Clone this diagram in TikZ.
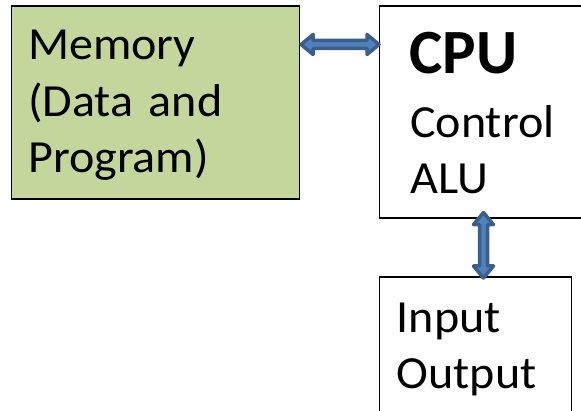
\documentclass[tikz,border=0pt]{standalone}
\usepackage{fontspec}
\setmainfont{Carlito}[FakeStretch=1.045]
\newfontfamily\cpufont{Carlito}
\usetikzlibrary{calc}
\definecolor{memgreen}{HTML}{C3D69B}
\definecolor{arrfill}{HTML}{4F81BD}
\definecolor{arrline}{HTML}{3A5F8B}
\begin{document}
\begin{tikzpicture}[x=1pt,y=-1pt,
  box/.style={draw=black, line width=1.6pt, rectangle, inner sep=0pt, anchor=north west},
  txt/.style={anchor=base west, inner sep=0pt, text width=250pt, align=left,
    font=\fontsize{46pt}{56.5pt}\selectfont},
  dblarr/.style={fill=arrfill, draw=arrline, line width=3.5pt, line join=round}]
\useasboundingbox (0,0) rectangle (581,411);
% boxes
\node[box, fill=memgreen, minimum width=288pt, minimum height=193pt] (mem) at (10.5,5.5) {};
\node[box, fill=white, minimum width=220pt, minimum height=212pt] (cpu) at (378.5,5.5) {};
\node[box, fill=white, minimum width=192pt, minimum height=150pt] (io) at (378.5,276.5) {};
% texts
\node[txt] (memtxt) at (28,60) {Memory\\(Data and\\Program)};
\node[txt, font=\cpufont\fontsize{63pt}{63pt}\selectfont\bfseries] (cputxt) at (409,74) {CPU};
\node[txt, font=\fontsize{46pt}{56pt}\selectfont] (cpusub) at (410,137.5) {Control\\ALU};
\node[txt, font=\fontsize{46pt}{56pt}\selectfont] (iotxt) at (396.5,332.5) {Input\\Output};
% connector coordinates
\coordinate (ha) at ($(mem.east |- 0,44.5)+(1,0)$);
\coordinate (hb) at ($(cpu.west |- 0,44.5)+(0.5,0)$);
\coordinate (va) at ($(cpu.south -| 483.5,0)+(0,-6.5)$);
\coordinate (vb) at ($(io.north -| 483.5,0)+(0,1.5)$);
% horizontal double arrow
\draw[dblarr] (ha) -- ++(12,-10) -- ++(0,6) -- ($(hb)+(-12,-4)$) -- ++(0,-6) -- (hb)
  -- ++(-12,10) -- ++(0,-6) -- ($(ha)+(12,4)$) -- ++(0,6) -- cycle;
% vertical double arrow
\draw[dblarr] (va) -- ++(10,12) -- ++(-6,0) -- ($(vb)+(4,-12)$) -- ++(6,0) -- (vb)
  -- ++(-10,-12) -- ++(6,0) -- ($(va)+(-4,12)$) -- ++(-6,0) -- cycle;
\end{tikzpicture}
\end{document}
